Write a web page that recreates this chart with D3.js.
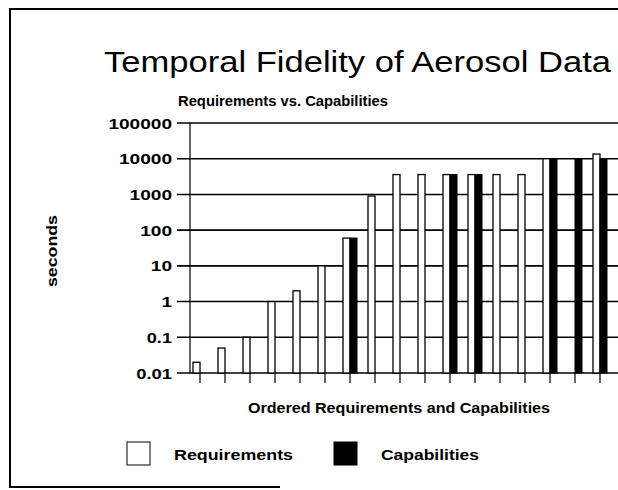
<!DOCTYPE html>
<html>
<head>
<meta charset="utf-8">
<script src="https://cdn.jsdelivr.net/npm/d3@7"></script>
<style>
  body { margin: 0; background: #fff; }
  text { font-family: "Liberation Sans", Arial, sans-serif; fill: #000; }
</style>
</head>
<body>
<div id="chart"></div>
<script>
// ordered items (no labels shown on the axis)
const categories = d3.range(1, 18).map(d => "item" + d);
// seconds, null = no bar
const requirements = [0.02, 0.05, 0.1, 1, 2, 10, 60, 900, 3600, 3600, 3600, 3600, 3600, 3600, 10000, null, 13500];
const capabilities = [null, null, null, null, null, null, 60, null, null, null, 3600, 3600, null, null, 10000, 10000, 10000];
const yTicks = [0.01, 0.1, 1, 10, 100, 1000, 10000, 100000];
const yTickLabels = ["0.01", "0.1", "1", "10", "100", "1000", "10000", "100000"];

const W = 618, H = 490;
const plot = { left: 190, right: 618, top: 123, bottom: 373 };

const svg = d3.select("#chart").append("svg")
  .attr("width", W).attr("height", H);

// frame
svg.append("path")
  .attr("d", `M ${W + 5} 9 L 10 9 L 10 487 L 280 487`)
  .attr("fill", "none").attr("stroke", "#000").attr("stroke-width", 2);

// titles
svg.append("text")
  .attr("x", 104).attr("y", 72)
  .attr("font-size", 30)
  .attr("textLength", 507).attr("lengthAdjust", "spacingAndGlyphs")
  .text("Temporal Fidelity of Aerosol Data");

svg.append("text")
  .attr("x", 178).attr("y", 106)
  .attr("font-size", 14).attr("font-weight", "bold")
  .attr("textLength", 210).attr("lengthAdjust", "spacingAndGlyphs")
  .text("Requirements vs. Capabilities");

const x = d3.scalePoint()
  .domain(categories)
  .range([200, 600]);

const y = d3.scaleLog()
  .domain([0.01, 100000])
  .range([plot.bottom, plot.top]);

// horizontal gridlines
svg.append("g")
  .selectAll("line")
  .data(yTicks)
  .join("line")
  .attr("x1", 177).attr("x2", plot.right)
  .attr("y1", d => y(d)).attr("y2", d => y(d))
  .attr("stroke", "#000").attr("stroke-width", 1.6);

// y tick labels
svg.append("g")
  .selectAll("text")
  .data(yTicks)
  .join("text")
  .attr("x", 172)
  .attr("y", d => y(d) + 5.5)
  .attr("text-anchor", "end")
  .attr("font-size", 15).attr("font-weight", "bold")
  .attr("textLength", (d, i) => yTickLabels[i].replace(".", "").length * 10.6 + (yTickLabels[i].includes(".") ? 4 : 0))
  .attr("lengthAdjust", "spacingAndGlyphs")
  .text((d, i) => yTickLabels[i]);

// y axis line
svg.append("line")
  .attr("x1", plot.left).attr("x2", plot.left)
  .attr("y1", plot.top).attr("y2", plot.bottom)
  .attr("stroke", "#000").attr("stroke-width", 1.2);

// x ticks
svg.append("g")
  .selectAll("line")
  .data(categories)
  .join("line")
  .attr("x1", d => x(d)).attr("x2", d => x(d))
  .attr("y1", plot.bottom).attr("y2", plot.bottom + 10)
  .attr("stroke", "#000").attr("stroke-width", 1.2);

const barW = 7;
const reqData = categories.map((c, i) => ({ c, v: requirements[i] })).filter(d => d.v != null);
const capData = categories.map((c, i) => ({ c, v: capabilities[i] })).filter(d => d.v != null);

svg.append("g")
  .selectAll("rect")
  .data(reqData)
  .join("rect")
  .attr("x", d => x(d.c) - barW)
  .attr("y", d => y(d.v))
  .attr("width", barW)
  .attr("height", d => y(0.01) - y(d.v))
  .attr("fill", "#fff").attr("stroke", "#000").attr("stroke-width", 1.3);

svg.append("g")
  .selectAll("rect")
  .data(capData)
  .join("rect")
  .attr("x", d => x(d.c))
  .attr("y", d => y(d.v))
  .attr("width", barW)
  .attr("height", d => y(0.01) - y(d.v))
  .attr("fill", "#000").attr("stroke", "#000").attr("stroke-width", 1);

// axis titles
svg.append("text")
  .attr("transform", "translate(57,251) rotate(-90)")
  .attr("text-anchor", "middle")
  .attr("font-size", 14).attr("font-weight", "bold")
  .attr("textLength", 72).attr("lengthAdjust", "spacingAndGlyphs")
  .text("seconds");

svg.append("text")
  .attr("x", 248).attr("y", 413)
  .attr("font-size", 14).attr("font-weight", "bold")
  .attr("textLength", 302).attr("lengthAdjust", "spacingAndGlyphs")
  .text("Ordered Requirements and Capabilities");

// legend
const legend = [
  { name: "Requirements", fill: "#fff", x: 127 },
  { name: "Capabilities", fill: "#000", x: 334 }
];
const lg = svg.append("g").selectAll("g").data(legend).join("g")
  .attr("transform", d => `translate(${d.x},442)`);
lg.append("rect")
  .attr("width", 23).attr("height", 23)
  .attr("fill", d => d.fill).attr("stroke", "#000").attr("stroke-width", 1);
lg.append("text")
  .attr("x", 47).attr("y", 18)
  .attr("font-size", 15).attr("font-weight", "bold")
  .attr("textLength", (d, i) => i === 0 ? 119 : 98).attr("lengthAdjust", "spacingAndGlyphs")
  .text(d => d.name);
</script>
</body>
</html>
